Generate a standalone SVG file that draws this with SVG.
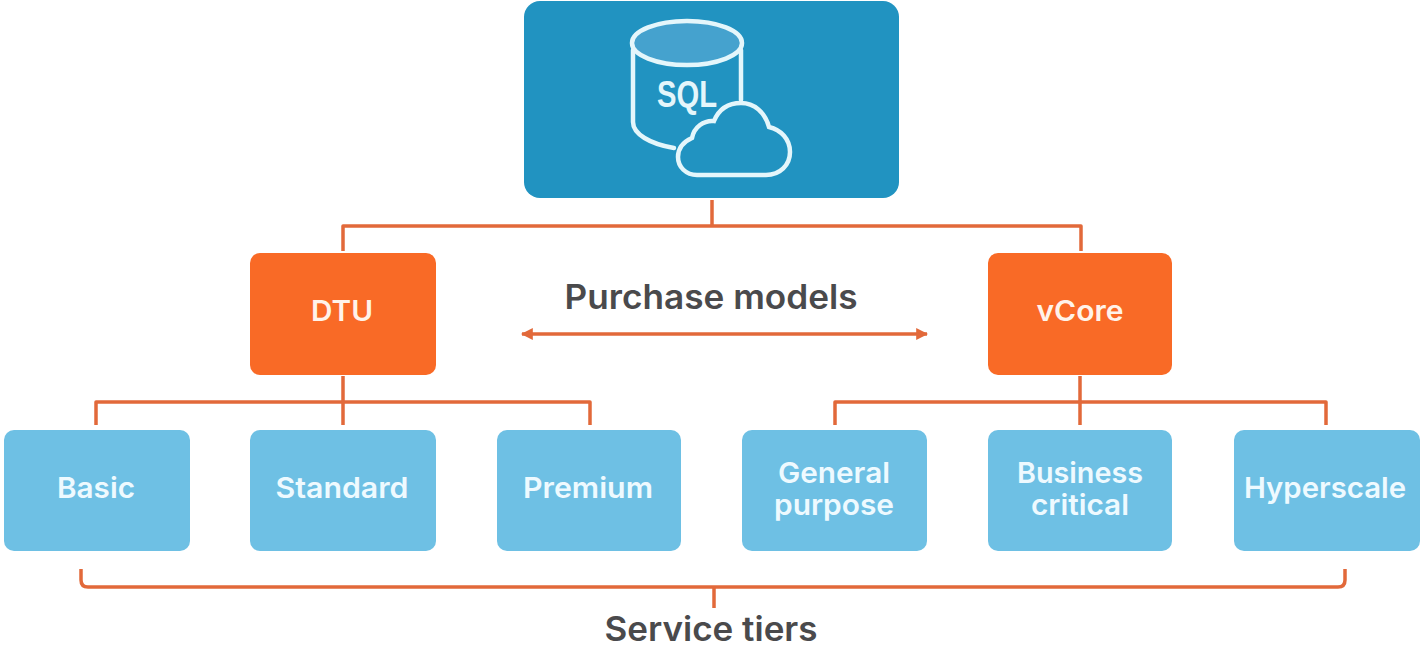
<svg xmlns="http://www.w3.org/2000/svg" width="1422" height="649" viewBox="0 0 1422 649">
<style>
text{font-family:"Inter","Noto Sans","Liberation Sans",sans-serif;font-weight:600;text-anchor:middle}
.tier rect{fill:#6ec0e4}
.model rect{fill:#f96a26}
.tier text{fill:#eefaff;font-size:29px}
.model text{font-size:28px;fill:#fff3ea}
.cap{fill:#4a4a4c;font-size:33.5px}
#connectors path{fill:none;stroke:#e2693a;stroke-width:3.5;stroke-linejoin:round}
.icon{fill:none;stroke:#e4f6fb;stroke-width:4.5;stroke-linecap:round}
</style>
<defs>
<marker id="ah" viewBox="0 0 10 10" refX="9" refY="5" markerWidth="12" markerHeight="12" markerUnits="userSpaceOnUse" orient="auto-start-reverse"><path d="M0 0L10 5L0 10Z" fill="#e2693a"/></marker>
</defs>
<rect width="1422" height="649" fill="#fff"/>
<g id="connectors">
<path d="M712 200V226M343 251V226H1081V251"/>
<path d="M343 376V425M96 425V402H590V425"/>
<path d="M1080 376V425M835 425V402H1326V425"/>
<path d="M81 569V580Q81 587 88 587H1338Q1345 587 1345 580V569M714 587V608"/>
<path d="M522 334H927" marker-start="url(#ah)" marker-end="url(#ah)"/>
</g>
<g id="sql">
<rect x="524" y="1" width="375" height="197" rx="16" fill="#2193c1"/>
<ellipse cx="687" cy="43" rx="55" ry="22" style="fill:#45a2ce" class="icon"/>
<path class="icon" d="M633 50V122C633 134 650 144 674 148M741 50V100"/>
<text x="687" y="107" textLength="60" lengthAdjust="spacingAndGlyphs" style="font-family:'Liberation Sans',sans-serif;font-weight:700;font-size:36px;fill:#e4f6fb">SQL</text>
<path class="icon" style="fill:#2193c1" d="M697 175H766C780 175 790 165 790 152C790 139 781 130 769 127C765 112 754 103 741 103C729 103 719 109 714 121C704 120 694 127 692 138C683 142 678 149 678 157C678 167 686 175 697 175Z"/>
</g>
<g id="dtu" class="model"><rect x="250" y="253" width="186" height="122" rx="10"/><text x="342" y="321" textLength="62" lengthAdjust="spacingAndGlyphs">DTU</text></g>
<g id="vcore" class="model"><rect x="988" y="253" width="184" height="122" rx="10"/><text x="1080" y="321" textLength="87" lengthAdjust="spacingAndGlyphs">vCore</text></g>
<g id="basic" class="tier"><rect x="4" y="430" width="186" height="121" rx="10"/><text x="96" y="498" textLength="78" lengthAdjust="spacingAndGlyphs">Basic</text></g>
<g id="standard" class="tier"><rect x="250" y="430" width="186" height="121" rx="10"/><text x="342" y="498" textLength="133" lengthAdjust="spacingAndGlyphs">Standard</text></g>
<g id="premium" class="tier"><rect x="497" y="430" width="184" height="121" rx="10"/><text x="588" y="498" textLength="130" lengthAdjust="spacingAndGlyphs">Premium</text></g>
<g id="general" class="tier"><rect x="742" y="430" width="185" height="121" rx="10"/><text x="834" y="483" textLength="112" lengthAdjust="spacingAndGlyphs">General</text><text x="834" y="515" textLength="120" lengthAdjust="spacingAndGlyphs">purpose</text></g>
<g id="business" class="tier"><rect x="988" y="430" width="184" height="121" rx="10"/><text x="1080" y="483" textLength="126" lengthAdjust="spacingAndGlyphs">Business</text><text x="1080" y="515" textLength="98" lengthAdjust="spacingAndGlyphs">critical</text></g>
<g id="hyperscale" class="tier"><rect x="1234" y="430" width="186" height="121" rx="10"/><text x="1325" y="498" textLength="162" lengthAdjust="spacingAndGlyphs">Hyperscale</text></g>
<text class="cap" x="711" y="309" textLength="293" lengthAdjust="spacingAndGlyphs">Purchase models</text>
<text class="cap" x="711" y="641" textLength="213" lengthAdjust="spacingAndGlyphs">Service tiers</text>
</svg>
